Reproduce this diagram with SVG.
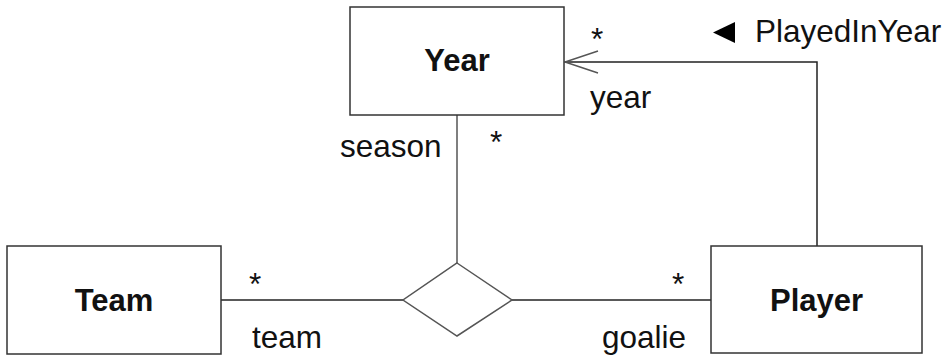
<svg xmlns="http://www.w3.org/2000/svg" width="951" height="360" viewBox="0 0 951 360">
<style>
.box{fill:#fff;stroke:#333;stroke-width:1.5}
.t{font-family:"Liberation Sans",Arial,sans-serif;font-size:31.5px;fill:#111}
.b{font-weight:bold;text-anchor:middle;font-size:31px}
.ln{fill:none;stroke:#222;stroke-width:1.5}
.gl{fill:none;stroke:#555;stroke-width:1.5}
</style>
<rect width="951" height="360" fill="#fff"/>
<g id="connectors">
<polyline class="ln" points="817,246 817,62 565,62"/>
<polyline class="gl" points="598,51 565,62 598,73"/>
<line class="gl" x1="457" y1="115" x2="457" y2="263"/>
<line class="ln" x1="221" y1="300" x2="403" y2="300"/>
<line class="ln" x1="512" y1="300" x2="711" y2="300"/>
<polygon class="gl" points="457,263 512,300 457,336 403,300" fill="#fff"/>
<text class="t" x="591" y="50">*</text>
<text class="t" x="590" y="108">year</text>
<polygon points="713,32.5 735,22 735,43" fill="#000"/>
<text class="t" x="755" y="42">PlayedInYear</text>
<text class="t" x="340" y="157">season</text>
<text class="t" x="490" y="153">*</text>
<text class="t" x="249" y="295">*</text>
<text class="t" x="252" y="348">team</text>
<text class="t" x="672" y="295">*</text>
<text class="t" x="602" y="348">goalie</text>
</g>
<g id="year"><rect class="box" x="350" y="7" width="214" height="108"/><text class="t b" x="457" y="71">Year</text></g>
<g id="team"><rect class="box" x="7" y="246" width="214" height="108"/><text class="t b" x="114" y="311">Team</text></g>
<g id="player"><rect class="box" x="711" y="246" width="211" height="107"/><text class="t b" x="816.5" y="311">Player</text></g>
</svg>
